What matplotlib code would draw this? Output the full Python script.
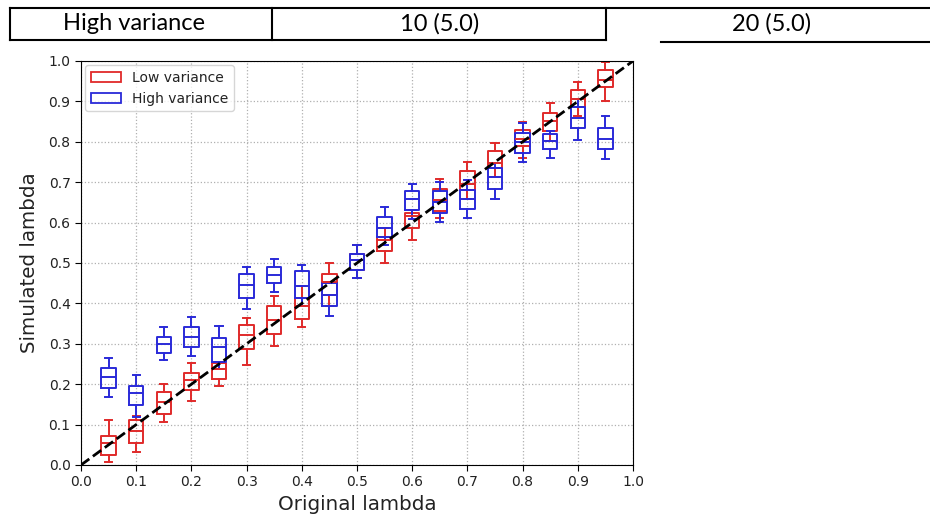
import matplotlib
matplotlib.use("Agg")
import matplotlib.pyplot as plt
from matplotlib.patches import Patch
from matplotlib.lines import Line2D

# ---- data -------------------------------------------------------------
positions = [0.05, 0.10, 0.15, 0.20, 0.25, 0.30, 0.35, 0.40, 0.45, 0.50,
             0.55, 0.60, 0.65, 0.70, 0.75, 0.80, 0.85, 0.90, 0.95]

low_whislo = [0.007, 0.032, 0.106, 0.158, 0.196, 0.247, 0.294, 0.342, 0.394, 0.463,
              0.501, 0.557, 0.611, 0.658, 0.712, 0.759, 0.803, 0.865, 0.901]
low_q1 = [0.025, 0.054, 0.127, 0.185, 0.214, 0.286, 0.324, 0.361, 0.422, 0.483,
          0.530, 0.586, 0.628, 0.681, 0.734, 0.790, 0.826, 0.885, 0.935]
low_med = [0.054, 0.084, 0.155, 0.211, 0.238, 0.322, 0.359, 0.394, 0.452, 0.508,
           0.557, 0.617, 0.656, 0.696, 0.747, 0.806, 0.851, 0.905, 0.953]
low_q3 = [0.073, 0.111, 0.180, 0.227, 0.253, 0.347, 0.394, 0.414, 0.473, 0.523,
          0.564, 0.623, 0.683, 0.728, 0.778, 0.829, 0.872, 0.928, 0.978]
low_whishi = [0.111, 0.122, 0.200, 0.252, 0.256, 0.364, 0.419, 0.443, 0.499, 0.544,
              0.587, 0.630, 0.707, 0.751, 0.798, 0.850, 0.897, 0.949, 0.998]

high_whislo = [0.168, 0.120, 0.260, 0.271, 0.238, 0.385, 0.429, 0.394, 0.370, 0.463,
               0.545, 0.610, 0.602, 0.612, 0.658, 0.749, 0.761, 0.804, 0.758]
high_q1 = [0.191, 0.148, 0.278, 0.293, 0.256, 0.413, 0.450, 0.414, 0.394, 0.483,
           0.564, 0.631, 0.625, 0.634, 0.684, 0.773, 0.782, 0.833, 0.783]
high_med = [0.218, 0.179, 0.300, 0.318, 0.293, 0.446, 0.470, 0.443, 0.422, 0.508,
            0.587, 0.658, 0.652, 0.658, 0.712, 0.800, 0.803, 0.858, 0.807]
high_q3 = [0.239, 0.196, 0.318, 0.342, 0.315, 0.473, 0.491, 0.479, 0.450, 0.523,
           0.614, 0.677, 0.679, 0.681, 0.734, 0.821, 0.820, 0.885, 0.833]
high_whishi = [0.264, 0.224, 0.341, 0.367, 0.345, 0.491, 0.510, 0.496, 0.452, 0.544,
               0.639, 0.696, 0.701, 0.705, 0.747, 0.846, 0.826, 0.905, 0.864]

series_names = ["Low variance", "High variance"]
xticks = [0.0, 0.1, 0.2, 0.3, 0.4, 0.5, 0.6, 0.7, 0.8, 0.9, 1.0]
yticks = [0.0, 0.1, 0.2, 0.3, 0.4, 0.5, 0.6, 0.7, 0.8, 0.9, 1.0]
table_cells = ["High variance", "10 (5.0)", "20 (5.0)"]

RED = "#e02a2a"
BLUE = "#2a2ad8"
TXT = "#222222"


def make_stats(lo, q1, med, q3, hi):
    return [dict(whislo=a, q1=b, med=c, q3=d, whishi=e, fliers=[])
            for a, b, c, d, e in zip(lo, q1, med, q3, hi)]


fig = plt.figure(figsize=(9.3, 5.17), dpi=100)

# ---- table row above chart --------------------------------------------
W, H = 930.0, 517.0

def fx(px):
    return px / W

def fy(py):
    return 1 - py / H

lw_t = 1.5
fig.add_artist(Line2D([fx(10), fx(930)], [fy(8), fy(8)], color="black", lw=lw_t))
fig.add_artist(Line2D([fx(10), fx(606)], [fy(40), fy(40)], color="black", lw=lw_t))
fig.add_artist(Line2D([fx(661), fx(930)], [fy(42), fy(42)], color="black", lw=lw_t))
for xv in [10, 272, 606]:
    fig.add_artist(Line2D([fx(xv), fx(xv)], [fy(8), fy(40)], color="black", lw=lw_t))
for txt, cx in zip(table_cells, [134, 440, 772]):
    fig.text(fx(cx), fy(24), txt, ha="center", va="center", fontsize=17,
             family=["Lato", "DejaVu Sans"])

# ---- chart ------------------------------------------------------------
ax = fig.add_axes([81 / W, 52 / H, 552 / W, 404 / H])

def style(color):
    return dict(
        boxprops=dict(color=color, lw=1.4),
        whiskerprops=dict(color=color, lw=1.4),
        capprops=dict(color=color, lw=1.4),
        medianprops=dict(color=color, lw=1.4),
    )

ax.bxp(make_stats(low_whislo, low_q1, low_med, low_q3, low_whishi),
       positions=positions, widths=0.026, showfliers=False,
       manage_ticks=False, **style(RED))
ax.bxp(make_stats(high_whislo, high_q1, high_med, high_q3, high_whishi),
       positions=positions, widths=0.026, showfliers=False,
       manage_ticks=False, **style(BLUE))

ax.plot([0, 1], [0, 1], ls="--", color="black", lw=2, zorder=3)

ax.set_xlim(0, 1)
ax.set_ylim(0, 1)
ax.set_xticks(xticks)
ax.set_yticks(yticks)
ax.set_xticklabels([f"{v:.1f}" for v in xticks])
ax.set_yticklabels([f"{v:.1f}" for v in yticks])
ax.tick_params(labelsize=10, length=4, labelcolor=TXT)
ax.grid(True, ls=":", color="#b0b0b0", lw=0.9)
ax.set_axisbelow(True)
ax.set_xlabel("Original lambda", fontsize=14.3, labelpad=4, color=TXT)
ax.set_ylabel("Simulated lambda", fontsize=14.3, labelpad=7, color=TXT)

handles = [Patch(facecolor="none", edgecolor=RED, lw=1.3),
           Patch(facecolor="none", edgecolor=BLUE, lw=1.3)]
leg = ax.legend(handles, series_names, loc="upper left", fontsize=10,
                handlelength=2.2, borderaxespad=0.3)
for t in leg.get_texts():
    t.set_color(TXT)

fig.savefig("out.png", dpi=100)
